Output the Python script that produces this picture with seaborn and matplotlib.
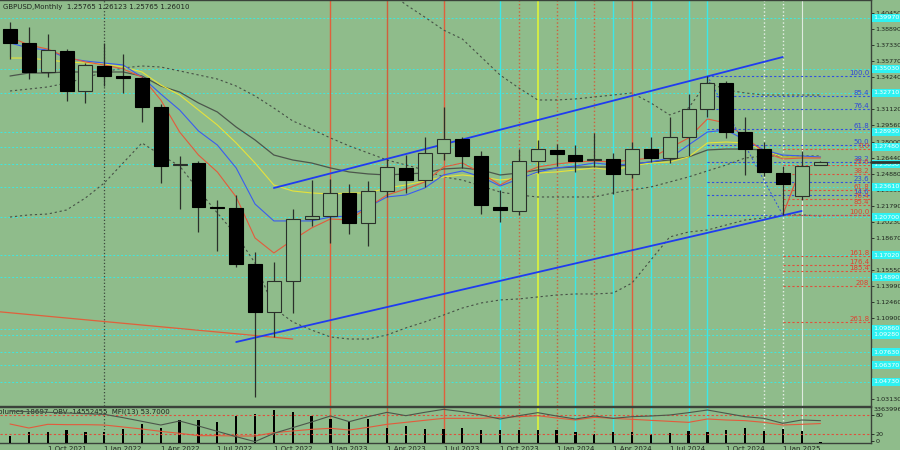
import numpy as np
import pandas as pd
import matplotlib
matplotlib.use("Agg")
import matplotlib.pyplot as plt
import matplotlib.transforms as mtransforms
import seaborn as sns

# ---------------- data ----------------
months = pd.date_range("2021-08-01", periods=44, freq="MS")

opens = [1.3890, 1.3755, 1.3474, 1.3677, 1.3290, 1.3532, 1.3435, 1.3416, 1.3135, 1.2574,
         1.2593, 1.2167, 1.2157, 1.1615, 1.1151, 1.1451, 1.2051, 1.2080, 1.2303, 1.2012,
         1.2322, 1.2545, 1.2428, 1.2690, 1.2825, 1.2661, 1.2167, 1.2128, 1.2612, 1.2719,
         1.2670, 1.2622, 1.2630, 1.2487, 1.2728, 1.2641, 1.2845, 1.3116, 1.3367, 1.2893,
         1.2728, 1.2496, 1.2274, 1.25765]
highs = [1.3958, 1.3909, 1.3842, 1.3697, 1.3561, 1.3755, 1.3648, 1.3425, 1.3164, 1.2661,
         1.2612, 1.2235, 1.2283, 1.1731, 1.1635, 1.2148, 1.2428, 1.2438, 1.2390, 1.2419,
         1.2632, 1.2670, 1.2845, 1.3135, 1.2845, 1.2709, 1.2332, 1.2728, 1.2816, 1.2777,
         1.2767, 1.2883, 1.2690, 1.2796, 1.2845, 1.3038, 1.3261, 1.3435, 1.3387, 1.3038,
         1.2796, 1.2564, 1.2709, 1.26123]
lows = [1.3600, 1.3406, 1.3425, 1.3193, 1.3174, 1.3338, 1.3271, 1.2990, 1.2399, 1.2148,
        1.1925, 1.1741, 1.1586, 1.0328, 1.0909, 1.1141, 1.1983, 1.1818, 1.1906, 1.1789,
        1.2264, 1.2303, 1.2361, 1.2622, 1.2545, 1.2099, 1.2022, 1.2090, 1.2496, 1.2564,
        1.2506, 1.2554, 1.2293, 1.2448, 1.2603, 1.2593, 1.2661, 1.3038, 1.2835, 1.2477,
        1.2467, 1.2090, 1.2235, 1.25765]
closes = [1.3755, 1.3474, 1.3687, 1.3290, 1.3542, 1.3435, 1.3416, 1.3135, 1.2564, 1.2583,
          1.2167, 1.2160, 1.1615, 1.1151, 1.1451, 1.2051, 1.2080, 1.2303, 1.2012, 1.2322,
          1.2554, 1.2428, 1.2690, 1.2825, 1.2661, 1.2186, 1.2138, 1.2612, 1.2728, 1.2680,
          1.2612, 1.2630, 1.2487, 1.2728, 1.2641, 1.2845, 1.3116, 1.3367, 1.2893, 1.2728,
          1.2506, 1.2390, 1.2564, 1.26010]

ma_red = [1.3813, 1.3735, 1.3696, 1.3619, 1.3571, 1.3542, 1.3503, 1.3425, 1.3203, 1.2893,
          1.2670, 1.2506, 1.2264, 1.1867, 1.1722, 1.1848, 1.1964, 1.2051, 1.2041, 1.2167,
          1.2283, 1.2341, 1.2409, 1.2554, 1.2593, 1.2496, 1.2380, 1.2477, 1.2554, 1.2583,
          1.2603, 1.2612, 1.2603, 1.2622, 1.2641, 1.2738, 1.2835, 1.3019, 1.2980, 1.2845,
          1.2699, 1.2632, 1.2641, 1.2641]
ma_blue = [1.3755, 1.3706, 1.3687, 1.3609, 1.3580, 1.3561, 1.3542, 1.3425, 1.3261, 1.3106,
           1.2903, 1.2767, 1.2545, 1.2196, 1.2032, 1.2032, 1.2032, 1.2070, 1.2080, 1.2167,
           1.2264, 1.2283, 1.2351, 1.2477, 1.2516, 1.2458, 1.2370, 1.2438, 1.2506, 1.2545,
           1.2564, 1.2593, 1.2574, 1.2583, 1.2603, 1.2641, 1.2767, 1.2893, 1.2912, 1.2816,
           1.2719, 1.2670, 1.2661, 1.2651]
ma_yellow = [1.3609, 1.3609, 1.3590, 1.3571, 1.3561, 1.3551, 1.3522, 1.3474, 1.3348, 1.3251,
             1.3106, 1.2961, 1.2787, 1.2593, 1.2380, 1.2322, 1.2303, 1.2293, 1.2303, 1.2303,
             1.2351, 1.2380, 1.2419, 1.2458, 1.2477, 1.2458, 1.2428, 1.2448, 1.2496, 1.2506,
             1.2525, 1.2545, 1.2525, 1.2564, 1.2593, 1.2603, 1.2651, 1.2787, 1.2796, 1.2787,
             1.2719, 1.2651, 1.2651, 1.2651]
ma_gray = [1.3435, 1.3464, 1.3464, 1.3474, 1.3474, 1.3474, 1.3474, 1.3435, 1.3338, 1.3280,
           1.3174, 1.3087, 1.2941, 1.2816, 1.2670, 1.2622, 1.2593, 1.2545, 1.2506, 1.2487,
           1.2477, 1.2487, 1.2496, 1.2535, 1.2545, 1.2525, 1.2477, 1.2496, 1.2525, 1.2545,
           1.2554, 1.2554, 1.2554, 1.2583, 1.2603, 1.2622, 1.2651, 1.2719, 1.2728, 1.2728,
           1.2719, 1.2651, 1.2651, 1.2651]
bb_mid = [1.3290, 1.3309, 1.3329, 1.3367, 1.3416, 1.3474, 1.3513, 1.3532, 1.3522, 1.3484,
          1.3445, 1.3406, 1.3338, 1.3242, 1.3125, 1.3000, 1.2922, 1.2835, 1.2758, 1.2690,
          1.2622, 1.2574, 1.2525, 1.2458, 1.2428, 1.2370, 1.2312, 1.2283, 1.2264, 1.2264,
          1.2264, 1.2264, 1.2303, 1.2332, 1.2361, 1.2409, 1.2458, 1.2516, 1.2574, 1.2641,
          1.2661, 1.2661, 1.2661, 1.2661]
bb_low = [1.2070, 1.2090, 1.2099, 1.2138, 1.2254, 1.2399, 1.2593, 1.2787, 1.2670, 1.2564,
          1.2332, 1.2109, 1.1896, 1.1625, 1.1189, 1.1054, 1.0976, 1.0909, 1.0889, 1.0889,
          1.0928, 1.0996, 1.1054, 1.1121, 1.1189, 1.1238, 1.1267, 1.1277, 1.1296, 1.1315,
          1.1325, 1.1325, 1.1334, 1.1431, 1.1654, 1.1877, 1.1925, 1.1944, 1.1993, 1.2041,
          1.2061, 1.2090, 1.2090, 1.2080]
bb_up = [np.nan] * 20 + [1.4268, 1.4126, 1.4006, 1.3880, 1.3793, 1.3619, 1.3445, 1.3319,
                         1.3203, 1.3203, 1.3213, 1.3232, 1.3251, 1.3271, 1.3174, 1.3058,
                         1.3125, 1.3377, 1.3300, 1.3271, 1.3251, 1.3251, 1.3251, 1.3251]

volumes = [220, 320, 330, 380, 330, 340, 430, 570, 450, 680, 700, 640, 800, 880, 1000,
           930, 820, 730, 660, 720, 440, 510, 430, 420, 450, 380, 400, 390, 380, 400,
           320, 280, 340, 330, 270, 300, 370, 340, 400, 450, 350, 420, 370, 20]
obv = [2.85, 1.65, 0.45, -0.75, -1.95, -3.15, -9.15, -15.75, -22.35, -15.15, -24.15,
       -33.75, -43.35, -52.35, -37.35, -27.15, -16.95, -6.15, -16.35, -7.35, 0.45, -5.55,
       0.45, 5.85, 1.65, -4.35, -11.55, -5.55, -0.15, -6.15, -11.55, -6.15, -10.35, -7.35,
       -6.15, -4.35, -0.15, 4.65, -1.35, -7.35, -10.35, -19.35, -13.35, -14.55]
mfi = [52.3, 40.0, 51.3, 50.3, 50.3, 49.2, 43.1, 36.9, 29.7, 23.6, 16.4, 16.4, 15.4, 15.4,
       25.6, 30.8, 35.9, 39.0, 33.8, 42.0, 51.3, 57.4, 63.6, 69.7, 69.7, 69.7, 72.8, 74.9,
       77.9, 70.8, 64.6, 72.8, 69.7, 66.7, 63.6, 60.5, 57.4, 67.7, 64.6, 62.6, 57.4, 49.2,
       51.3, 53.7]

price_ticks = [1.40450, 1.38890, 1.37330, 1.35770, 1.34240, 1.32680, 1.31120, 1.29560,
               1.28000, 1.26440, 1.24880, 1.23350, 1.21790, 1.20230, 1.18670, 1.17110,
               1.15550, 1.13990, 1.12460, 1.10900, 1.09340, 1.07780, 1.06250, 1.04690,
               1.03130]
cyan_levels = [1.3997, 1.3503, 1.3271, 1.2893, 1.2748, 1.2583, 1.2361, 1.2070, 1.1702,
               1.1489, 1.0986, 1.0928, 1.0763, 1.0637, 1.0473]

tick_idx = [-1, 2, 5, 8, 11, 14, 17, 20, 23, 26, 29, 32, 35, 38, 41]
tick_labels = ["1 Jul 2021", "1 Oct 2021", "1 Jan 2022", "1 Apr 2022", "1 Jul 2022",
               "1 Oct 2022", "1 Jan 2023", "1 Apr 2023", "1 Jul 2023", "1 Oct 2023",
               "1 Jan 2024", "1 Apr 2024", "1 Jul 2024", "1 Oct 2024", "1 Jan 2025"]

# vertical marker lines: (month index, colour, style, width)
vlines_spec = [(5, "#3c463c", ":", 0.9), (17, "#e0603c", "-", 1.0), (20, "#d0603c", "-", 1.0),
               (23, "#e0603c", "-", 1.0), (26, "#3ce8e8", "-", 1.0), (27, "#d0603c", ":", 1.0),
               (28, "#d8f040", "-", 1.3), (29, "#d0603c", ":", 1.0), (30, "#3ce8e8", "-", 1.0),
               (31, "#d0603c", ":", 1.0), (32, "#3ce8e8", "-", 1.0), (33, "#e0603c", "-", 1.0),
               (34, "#3ce8e8", "-", 1.0), (36, "#3ce8e8", "-", 1.0), (37, "#3ce8e8", "-", 1.0),
               (40, "#e8f0e8", ":", 1.0), (41, "#e8f0e8", ":", 1.0), (42, "#dfeadf", "-", 0.8)]

# channel / trend lines (month index, price)
chan_up_x, chan_up_y = [14, 41], [1.2351, 1.3619]
chan_lo_x, chan_lo_y = [12, 42], [1.0860, 1.2128]
old_trend_x, old_trend_y = [-1, 15], [1.1160, 1.0889]

# fibonacci tools
fib_blue_hi, fib_blue_lo, fib_blue_start = 1.3435, 1.2090, 37
fib_blue_levels = [14.6, 23.6, 38.2, 50.0, 61.8, 76.4, 85.4, 100.0]
fib_red_p0, fib_red_p100, fib_red_start = 1.2728, 1.2090, 41
fib_red_levels = [0.0, 23.6, 38.2, 61.8, 76.4, 85.4, 100.0, 161.8, 176.4, 185.4, 208.0, 261.8]
fib_red_names = ["0.0", "23.6", "38.2", "61.8", "76.4", "85.4", "100.0", "161.8", "176.4",
                 "185.4", "208", "261.8"]

title_text = "GBPUSD,Monthly  1.25765 1.26123 1.25765 1.26010"
ind_text = "Volumes 18697  OBV -14552455  MFI(13) 53.7000"

# ---------------- style ----------------
BG = "#8fbc8b"
DARK = "#2a2f2a"
sns.set_theme(style="white", rc={"axes.facecolor": BG, "figure.facecolor": BG,
                                 "savefig.facecolor": BG})
plt.rcParams["font.family"] = ["DejaVu Sans"]
FS = 5
FSR = 4.6

idx = np.arange(len(months))
XL = (-0.53, 45.68)
YL = (1.02405, 1.41708)

fig = plt.figure(figsize=(9, 4.5), dpi=100)
ax = fig.add_axes([0, 44 / 450, 871 / 900, 406 / 450])
axi = fig.add_axes([0, 7 / 450, 871 / 900, 36 / 450])
for a in (ax, axi):
    a.set_facecolor(BG)
    a.set_xlim(*XL)
    for s in a.spines.values():
        s.set_color("#3a423a")
        s.set_linewidth(1.0)
    a.spines["left"].set_visible(False)
ax.set_ylim(*YL)

# horizontal cyan lines
for lv in cyan_levels:
    ax.axhline(lv, color="#3ee8e0", lw=0.7, ls=(0, (2, 2)), zorder=1)

# vertical lines on both panels
for xv, col, st, w in vlines_spec:
    for a in (ax, axi):
        a.axvline(xv, color=col, ls=st, lw=w, zorder=1.2)

# old red trend line + channel
ax.plot(old_trend_x, old_trend_y, color="#e0603c", lw=0.9, zorder=2)
ax.plot(chan_up_x, chan_up_y, color="#1f3cf0", lw=1.3, zorder=4)
ax.plot(chan_lo_x, chan_lo_y, color="#1f3cf0", lw=1.3, zorder=4)

# bollinger-like dotted bands
for band in (bb_up, bb_mid, bb_low):
    sns.lineplot(x=idx, y=band, ax=ax, color="#465046", lw=0.8, ls=(0, (2, 2.5)), zorder=2)

# moving averages
sns.lineplot(x=idx, y=ma_gray, ax=ax, color="#4c564c", lw=0.9, zorder=2.5)
sns.lineplot(x=idx, y=ma_yellow, ax=ax, color="#e6e23a", lw=0.8, zorder=2.6)
sns.lineplot(x=idx, y=ma_blue, ax=ax, color="#3a5cf0", lw=0.8, zorder=2.7)
sns.lineplot(x=idx, y=ma_red, ax=ax, color="#e45a3c", lw=0.8, zorder=2.8)

btr = mtransforms.blended_transform_factory(ax.transAxes, ax.transData)

# fibonacci levels
xr = XL[1]
for lv in fib_blue_levels + [0.0]:
    p = fib_blue_lo + lv / 100 * (fib_blue_hi - fib_blue_lo)
    ax.hlines(p, fib_blue_start, xr, color="#3050e0", lw=0.8, ls=(0, (2, 2)), zorder=3)
for lv in fib_blue_levels:
    p = fib_blue_lo + lv / 100 * (fib_blue_hi - fib_blue_lo)
    ax.text(0.998, p, f"{lv:.1f}", transform=btr, ha="right", va="bottom", fontsize=FS,
            color="#3048d8", zorder=6)
ax.plot([fib_blue_start, fib_red_start], [fib_blue_hi, fib_blue_lo], color="#3050e0", lw=0.7,
        ls=(0, (2, 2)), zorder=3)
for lv, nm in zip(fib_red_levels, fib_red_names):
    p = fib_red_p0 - lv / 100 * (fib_red_p0 - fib_red_p100)
    ax.hlines(p, fib_red_start, xr, color="#e0503c", lw=0.8, ls=(0, (2, 2)), zorder=3)
    ax.text(0.998, p, nm, transform=btr, ha="right", va="bottom", fontsize=FS,
            color="#e04030", zorder=6)
ax.plot([fib_red_start, fib_red_start + 0.65], [fib_red_p100, 1.2399], color="#e0503c", lw=0.8, zorder=3)

# candles
o = np.array(opens); h = np.array(highs); l = np.array(lows); c = np.array(closes)
ax.vlines(idx, l, h, color=DARK, lw=0.9, zorder=5)
bull = c >= o
body_h = np.maximum(np.abs(c - o), 0.0004)
ax.bar(idx[bull], body_h[bull], bottom=np.minimum(o, c)[bull], width=0.74,
       color=BG, edgecolor=DARK, linewidth=0.8, zorder=5.5)
ax.bar(idx[~bull], body_h[~bull], bottom=np.minimum(o, c)[~bull], width=0.74,
       color="black", edgecolor="black", linewidth=0.8, zorder=5.5)

# right price axis
ax.yaxis.tick_right()
ax.set_yticks(price_ticks)
ax.set_yticklabels([f"{t:.5f}" for t in price_ticks])
ax.tick_params(axis="y", direction="out", length=2, width=0.6, pad=1.2, labelsize=FSR,
               colors="#1e241e")
ax.tick_params(axis="x", bottom=False, labelbottom=False)
ax.set_xlabel(""); ax.set_ylabel("")

for lv in cyan_levels:
    ax.text(1.003, lv, f"{lv:.5f}", transform=btr, ha="left", va="center", fontsize=FSR,
            color="white", clip_on=False, zorder=7,
            bbox=dict(boxstyle="square,pad=0.2", fc="#2ef2f2", ec="none"))
ax.plot([1.0, 1.04], [closes[-1], closes[-1]], transform=btr, color="#303830", lw=2.0,
        clip_on=False, zorder=8)

fig.text(3 / 900, 1 - 7 / 450, title_text, fontsize=FS, color="#1e241e", va="center")

# indicator panel
axi.set_ylim(0, 1080)
axi.bar(idx, volumes, width=0.12, color="black", edgecolor="none", linewidth=0, zorder=3)
axi.set_yticks([])
axi.set_xticks(tick_idx)
axi.set_xticklabels(tick_labels, ha="left", fontsize=FS, color="#1e241e")
axi.tick_params(axis="x", length=2, width=0.6, pad=0.5, direction="out")
for lab in axi.get_xticklabels():
    lab.set_horizontalalignment("left")

axm = axi.twinx()
axm.patch.set_visible(False)
axm.set_xlim(*XL)
axm.set_ylim(-6.15, 104.6)
sns.lineplot(x=idx, y=mfi, ax=axm, color="#e45a3c", lw=0.8)
axm.axhline(80, color="#e0503c", lw=0.8, ls=(0, (2, 2)))
axm.axhline(20, color="#e0503c", lw=0.8, ls=(0, (2, 2)))
axm.set_yticks([0, 20, 80])
axm.set_yticklabels(["0", "20", "80"])
axm.tick_params(axis="y", length=2, width=0.6, pad=1.2, labelsize=FSR, colors="#1e241e")
axm.set_ylabel("")
for s in axm.spines.values():
    s.set_visible(False)

axo = axi.twinx()
axo.patch.set_visible(False)
axo.set_xlim(*XL)
axo.set_ylim(-54.75, 10.05)
sns.lineplot(x=idx, y=obv, ax=axo, color="#4c564c", lw=0.8)
axo.set_yticks([]); axo.set_ylabel("")
for s in axo.spines.values():
    s.set_visible(False)

axi.text(-0.007, 0.86, ind_text, transform=axi.transAxes, fontsize=FS, color="#1e241e",
         va="center", ha="left", clip_on=False)
axi.text(1.003, 0.93, "3363996", transform=axi.transAxes, fontsize=FSR, color="#1e241e",
         va="center", ha="left", clip_on=False)

fig.savefig("out.png", dpi=100, facecolor=BG)
